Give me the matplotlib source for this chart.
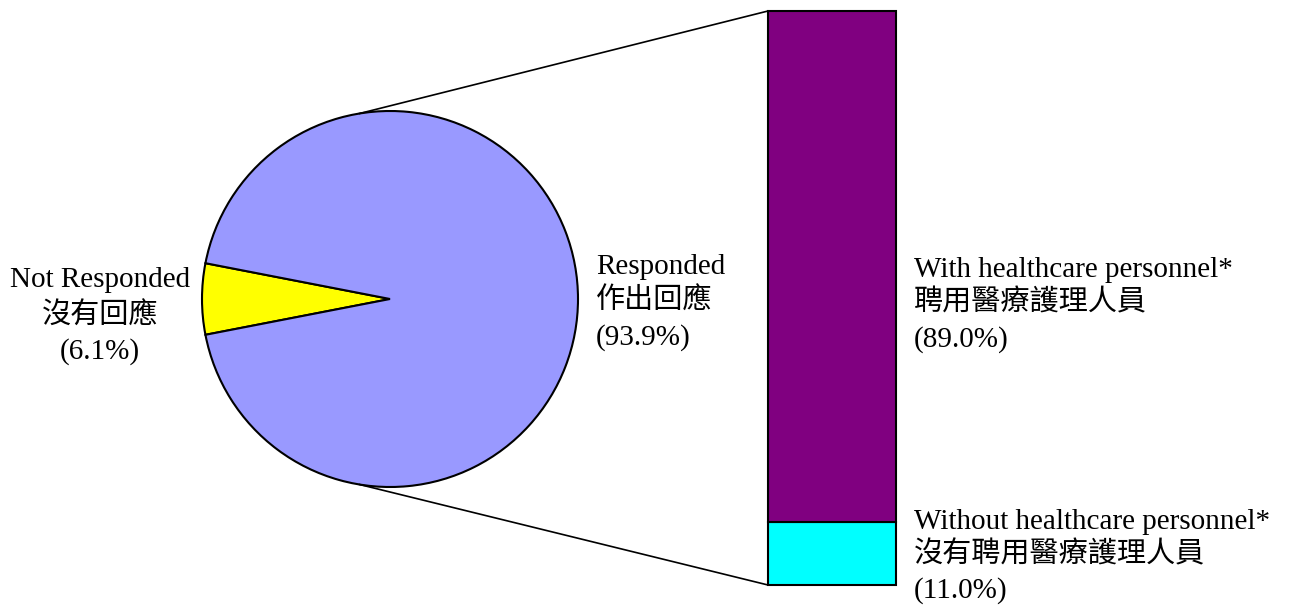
import numpy as np
import matplotlib.pyplot as plt

# Pie: response status
pie_labels_en = ["Not Responded", "Responded"]
pie_labels_zh = ["沒有回應", "作出回應"]
pie_values = [6.1, 93.9]
pie_colors = ["#FFFF00", "#9999FF"]

# Bar: breakdown of the responded slice
bar_labels_en = ["Without healthcare personnel*", "With healthcare personnel*"]
bar_labels_zh = ["沒有聘用醫療護理人員", "聘用醫療護理人員"]
bar_values = [11.0, 89.0]
bar_colors = ["#00FFFF", "#800080"]


def main():
    fam = ["Liberation Serif", "Noto Sans CJK TC"]
    fig = plt.figure(figsize=(12.89, 6.07), dpi=100)
    ax = fig.add_axes([0, 0, 1, 1])

    # pie
    cx, cy, r = 390, 299, 188
    half = pie_values[0] / 100 * 360 / 2
    ax.pie(pie_values, colors=pie_colors, startangle=180 - half, center=(cx, cy),
           radius=r, frame=True, wedgeprops=dict(edgecolor="black", linewidth=1.5))
    ax.set_xlim(0, 1289)
    ax.set_ylim(607, 0)
    ax.set_aspect("equal")
    ax.axis("off")

    # stacked bar
    bx, bw, btop, bbot = 832, 128, 11, 585
    scale = (bbot - btop) / sum(bar_values)
    bottom = bbot
    for v, c in zip(bar_values, bar_colors):
        ax.bar(bx, -v * scale, bottom=bottom, width=bw, color=c,
               edgecolor="black", linewidth=1.5, zorder=3)
        bottom -= v * scale

    # connecting lines
    th = np.deg2rad(99.3)
    px = cx + r * np.cos(th)
    ax.plot([px, bx - bw / 2], [cy - r * np.sin(th), btop], color="black", lw=1.2)
    ax.plot([px, bx - bw / 2], [cy + r * np.sin(th), bbot], color="black", lw=1.2)

    fs = 21
    wts = ["normal", "light", "normal"]
    # pie labels
    ys = [280, 316, 352]
    txt = [pie_labels_en[0], pie_labels_zh[0], "(%.1f%%)" % pie_values[0]]
    for y, t, w in zip(ys, txt, wts):
        ax.text(100, y, t, ha="center", va="center", fontsize=fs, family=fam, fontweight=w)
    ys = [267, 301, 338]
    txt = [pie_labels_en[1], pie_labels_zh[1], "(%.1f%%)" % pie_values[1]]
    for y, t, w in zip(ys, txt, wts):
        ax.text(596, y, t, ha="left", va="center", fontsize=fs, family=fam, fontweight=w)

    # bar labels
    ys = [270, 303, 340]
    txt = [bar_labels_en[1], bar_labels_zh[1], "(%.1f%%)" % bar_values[1]]
    for y, t, w in zip(ys, txt, wts):
        ax.text(914, y, t, ha="left", va="center", fontsize=fs, family=fam, fontweight=w)
    ys = [522, 555, 591]
    txt = [bar_labels_en[0], bar_labels_zh[0], "(%.1f%%)" % bar_values[0]]
    for y, t, w in zip(ys, txt, wts):
        ax.text(914, y, t, ha="left", va="center", fontsize=fs, family=fam, fontweight=w)

    fig.savefig("out.png", dpi=100)


if __name__ == "__main__":
    main()
